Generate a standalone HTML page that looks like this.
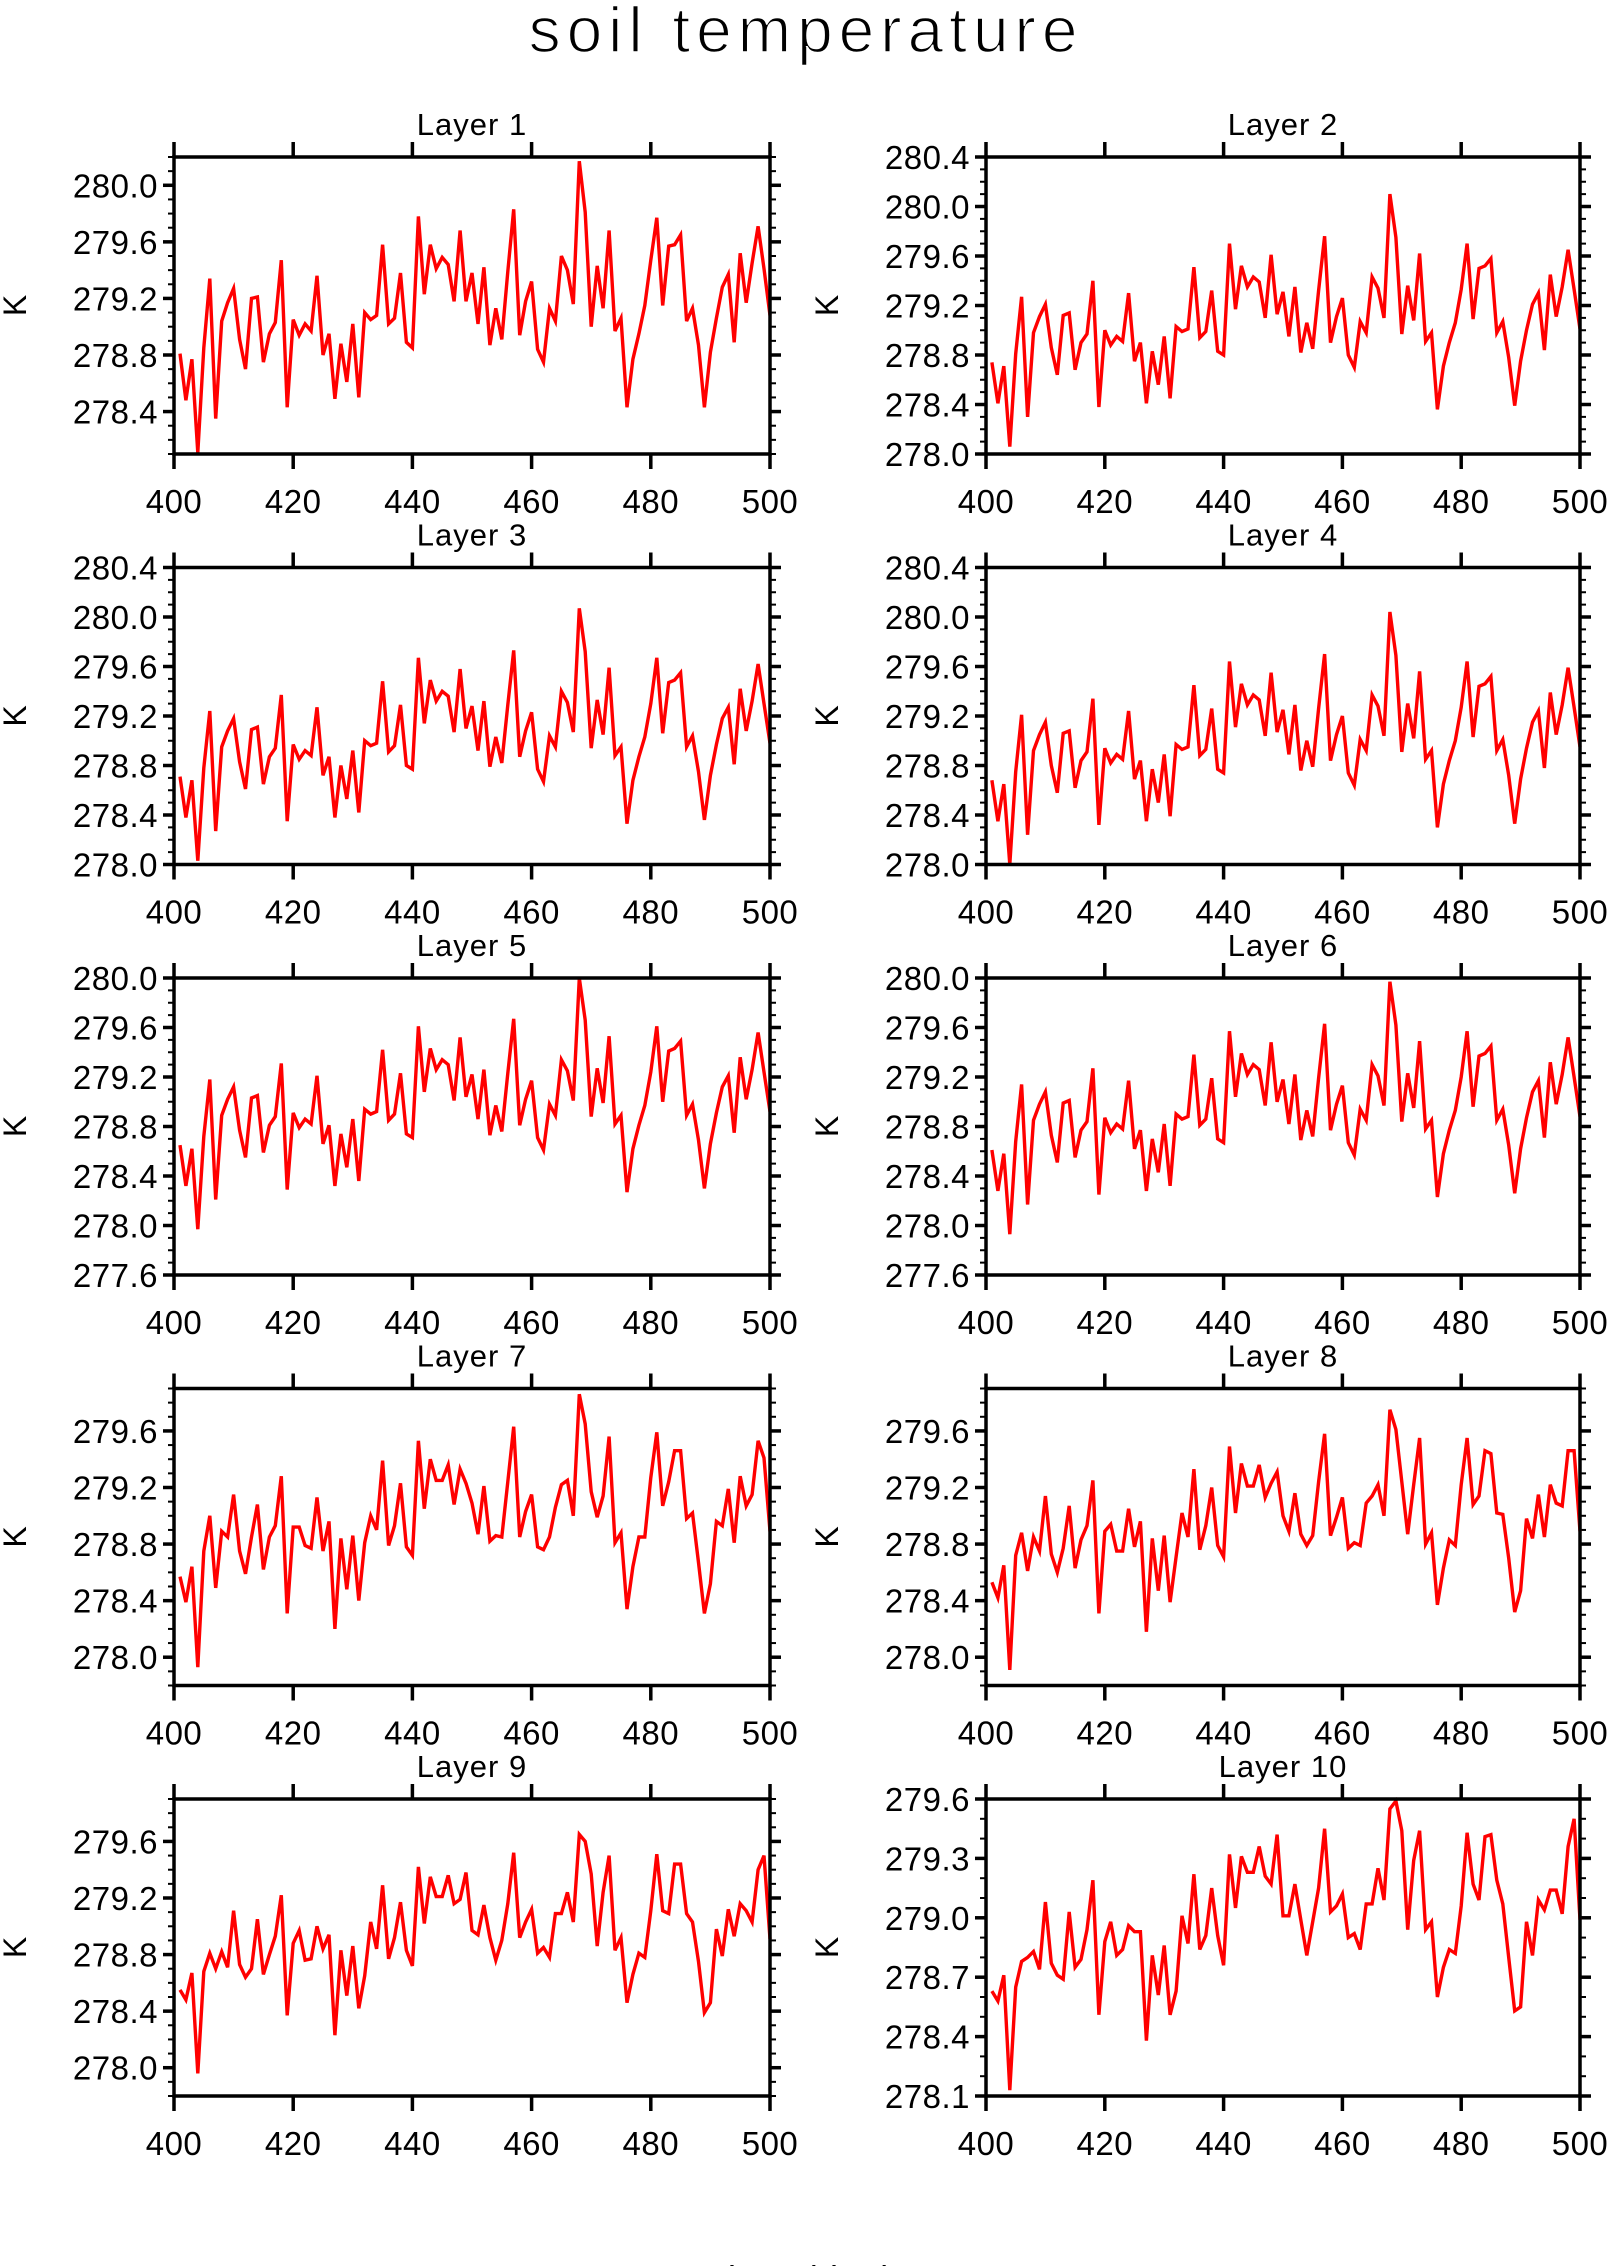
<!DOCTYPE html>
<html>
<head>
<meta charset="utf-8">
<style>
  html, body { margin:0; padding:0; background:#fff; }
  body { width:1612px; height:2266px; overflow:hidden; position:relative; }
  svg { display:block; }
  text { font-family:"Liberation Sans", sans-serif; fill:#000; }
</style>
</head>
<body>
<svg id="chart" width="1612" height="2266" viewBox="0 0 1612 2266" xmlns="http://www.w3.org/2000/svg">
  <text x="806" y="52" text-anchor="middle" font-size="64" letter-spacing="6" stroke="#fff" stroke-width="1.6">soil temperature</text>
  <text x="806" y="2291" text-anchor="middle" font-size="36" letter-spacing="2">time (day)</text>
</svg>
<script>
const xTickLabels = [400, 420, 440, 460, 480, 500];
const layerTitles = ["Layer 1","Layer 2","Layer 3","Layer 4","Layer 5","Layer 6","Layer 7","Layer 8","Layer 9","Layer 10"];
const firstDay = 401;

const layer1 = [278.81,278.48,278.77,278.11,278.85,279.34,278.35,279.04,279.17,279.27,278.91,278.70,279.20,279.21,278.75,278.95,279.03,279.47,278.43,279.05,278.94,279.02,278.97,279.36,278.80,278.95,278.49,278.88,278.61,279.02,278.50,279.10,279.05,279.08,279.58,279.02,279.06,279.38,278.89,278.85,279.78,279.23,279.58,279.41,279.49,279.44,279.18,279.68,279.18,279.38,279.02,279.42,278.87,279.13,278.91,279.39,279.83,278.94,279.18,279.32,278.84,278.75,279.13,279.04,279.50,279.40,279.16,280.17,279.81,279.00,279.43,279.13,279.68,278.97,279.06,278.43,278.77,278.95,279.15,279.47,279.77,279.15,279.57,279.58,279.65,279.04,279.13,278.87,278.43,278.82,279.06,279.28,279.37,278.89,279.52,279.17,279.45,279.71,279.41,279.08];
const layer2 = [278.74,278.41,278.71,278.06,278.81,279.27,278.30,278.98,279.11,279.21,278.86,278.64,279.12,279.14,278.68,278.90,278.97,279.40,278.38,279.00,278.88,278.95,278.91,279.30,278.75,278.90,278.41,278.83,278.56,278.95,278.45,279.03,278.99,279.01,279.51,278.94,278.99,279.32,278.83,278.80,279.70,279.17,279.52,279.35,279.43,279.39,279.10,279.61,279.13,279.31,278.95,279.35,278.82,279.06,278.85,279.32,279.76,278.90,279.11,279.26,278.80,278.70,279.07,278.98,279.43,279.34,279.10,280.10,279.75,278.97,279.36,279.08,279.62,278.91,278.98,278.36,278.71,278.90,279.06,279.33,279.70,279.09,279.50,279.52,279.58,278.98,279.07,278.78,278.39,278.75,279.00,279.21,279.30,278.84,279.45,279.11,279.35,279.65,279.33,279.01];
const layer3 = [278.71,278.38,278.68,278.03,278.78,279.24,278.27,278.95,279.08,279.18,278.83,278.61,279.09,279.11,278.65,278.87,278.94,279.37,278.35,278.97,278.85,278.92,278.88,279.27,278.72,278.87,278.38,278.80,278.53,278.92,278.42,279.00,278.96,278.98,279.48,278.91,278.96,279.29,278.80,278.77,279.67,279.14,279.49,279.32,279.40,279.36,279.07,279.58,279.10,279.28,278.92,279.32,278.79,279.03,278.82,279.29,279.73,278.87,279.08,279.23,278.77,278.67,279.04,278.95,279.40,279.31,279.07,280.07,279.72,278.94,279.33,279.05,279.59,278.88,278.95,278.33,278.68,278.87,279.03,279.30,279.67,279.06,279.47,279.49,279.55,278.95,279.04,278.75,278.36,278.72,278.97,279.18,279.27,278.81,279.42,279.08,279.32,279.62,279.30,278.98];
const layer4 = [278.68,278.35,278.65,278.00,278.75,279.21,278.24,278.92,279.05,279.15,278.80,278.58,279.06,279.08,278.62,278.84,278.91,279.34,278.32,278.94,278.82,278.89,278.85,279.24,278.69,278.84,278.35,278.77,278.50,278.89,278.39,278.97,278.93,278.95,279.45,278.88,278.93,279.26,278.77,278.74,279.64,279.11,279.46,279.29,279.37,279.33,279.04,279.55,279.07,279.25,278.89,279.29,278.76,279.00,278.79,279.26,279.70,278.84,279.05,279.20,278.74,278.64,279.01,278.92,279.37,279.28,279.04,280.04,279.69,278.91,279.30,279.02,279.56,278.85,278.92,278.30,278.65,278.84,279.00,279.27,279.64,279.03,279.44,279.46,279.52,278.92,279.01,278.72,278.33,278.69,278.94,279.15,279.24,278.78,279.39,279.05,279.29,279.59,279.27,278.95];
const layer5 = [278.65,278.32,278.62,277.97,278.72,279.18,278.21,278.89,279.02,279.12,278.77,278.55,279.03,279.05,278.59,278.81,278.88,279.31,278.29,278.91,278.79,278.86,278.82,279.21,278.66,278.81,278.32,278.74,278.47,278.86,278.36,278.94,278.90,278.92,279.42,278.85,278.90,279.23,278.74,278.71,279.61,279.08,279.43,279.26,279.34,279.30,279.01,279.52,279.04,279.22,278.86,279.26,278.73,278.97,278.76,279.23,279.67,278.81,279.02,279.17,278.71,278.61,278.98,278.89,279.34,279.25,279.01,280.00,279.66,278.88,279.27,278.99,279.53,278.82,278.89,278.27,278.62,278.81,278.97,279.24,279.61,279.00,279.41,279.43,279.49,278.89,278.98,278.69,278.30,278.66,278.91,279.12,279.21,278.75,279.36,279.02,279.26,279.56,279.24,278.92];
const layer6 = [278.61,278.28,278.58,277.93,278.68,279.14,278.17,278.85,278.98,279.08,278.73,278.51,278.99,279.01,278.55,278.77,278.84,279.27,278.25,278.87,278.75,278.82,278.78,279.17,278.62,278.77,278.28,278.70,278.43,278.82,278.32,278.90,278.86,278.88,279.38,278.81,278.86,279.19,278.70,278.67,279.57,279.04,279.39,279.22,279.30,279.26,278.97,279.48,279.00,279.18,278.82,279.22,278.69,278.93,278.72,279.19,279.63,278.77,278.98,279.13,278.67,278.57,278.94,278.85,279.30,279.21,278.97,279.97,279.62,278.84,279.23,278.95,279.49,278.78,278.85,278.23,278.58,278.77,278.93,279.20,279.57,278.96,279.37,279.39,279.45,278.85,278.94,278.65,278.26,278.62,278.87,279.08,279.17,278.71,279.32,278.98,279.22,279.52,279.20,278.88];
const layer7 = [278.57,278.39,278.64,277.93,278.75,279.00,278.49,278.89,278.85,279.15,278.75,278.59,278.85,279.08,278.62,278.85,278.93,279.28,278.31,278.92,278.92,278.79,278.77,279.13,278.75,278.96,278.20,278.84,278.48,278.86,278.40,278.81,279.00,278.90,279.39,278.79,278.93,279.23,278.78,278.72,279.53,279.05,279.40,279.25,279.25,279.36,279.08,279.33,279.23,279.09,278.87,279.21,278.82,278.86,278.85,279.24,279.63,278.85,279.03,279.15,278.78,278.76,278.85,279.06,279.22,279.25,279.00,279.86,279.65,279.17,278.99,279.14,279.56,278.81,278.88,278.34,278.64,278.85,278.85,279.27,279.59,279.07,279.24,279.46,279.46,278.98,279.02,278.67,278.31,278.52,278.96,278.93,279.19,278.81,279.28,279.07,279.15,279.53,279.41,278.89];
const layer8 = [278.53,278.42,278.65,277.91,278.72,278.88,278.61,278.85,278.75,279.14,278.73,278.60,278.77,279.07,278.63,278.83,278.93,279.25,278.31,278.89,278.94,278.75,278.75,279.05,278.78,278.96,278.18,278.84,278.47,278.86,278.39,278.71,279.02,278.85,279.33,278.76,278.93,279.20,278.79,278.71,279.49,279.02,279.37,279.21,279.21,279.36,279.13,279.23,279.31,279.00,278.89,279.16,278.87,278.79,278.86,279.24,279.58,278.86,278.99,279.13,278.77,278.81,278.79,279.09,279.14,279.22,279.00,279.75,279.61,279.24,278.87,279.22,279.55,278.80,278.88,278.37,278.63,278.83,278.79,279.22,279.55,279.08,279.14,279.46,279.44,279.02,279.01,278.70,278.32,278.47,278.98,278.84,279.15,278.85,279.22,279.09,279.07,279.46,279.46,278.89];
const layer9 = [278.55,278.48,278.67,277.96,278.68,278.81,278.70,278.82,278.71,279.11,278.73,278.64,278.70,279.05,278.66,278.80,278.93,279.22,278.37,278.88,278.97,278.76,278.77,279.00,278.84,278.94,278.23,278.83,278.51,278.86,278.42,278.65,279.03,278.84,279.29,278.77,278.92,279.17,278.83,278.72,279.42,279.02,279.35,279.21,279.21,279.36,279.16,279.19,279.38,278.97,278.94,279.15,278.92,278.76,278.90,279.16,279.52,278.92,279.03,279.12,278.81,278.85,278.78,279.09,279.09,279.24,279.03,279.65,279.60,279.37,278.86,279.24,279.50,278.83,278.92,278.46,278.66,278.81,278.78,279.11,279.51,279.11,279.09,279.44,279.44,279.09,279.03,278.75,278.39,278.46,278.98,278.79,279.12,278.93,279.16,279.11,279.03,279.40,279.50,278.91];
const layer10 = [278.63,278.58,278.71,278.13,278.65,278.78,278.80,278.83,278.74,279.08,278.77,278.71,278.69,279.03,278.75,278.79,278.94,279.19,278.51,278.88,278.98,278.81,278.84,278.96,278.93,278.93,278.38,278.81,278.61,278.86,278.51,278.63,279.01,278.87,279.22,278.84,278.91,279.15,278.91,278.76,279.32,279.05,279.31,279.23,279.23,279.36,279.21,279.17,279.42,279.01,279.01,279.17,278.99,278.81,278.98,279.15,279.45,279.03,279.06,279.12,278.90,278.92,278.84,279.07,279.07,279.25,279.09,279.55,279.59,279.44,278.94,279.29,279.44,278.94,278.98,278.60,278.75,278.84,278.82,279.06,279.43,279.17,279.09,279.41,279.42,279.19,279.07,278.80,278.53,278.55,278.98,278.81,279.09,279.04,279.14,279.14,279.02,279.36,279.50,278.99];

const yMins = [278.1, 278.0, 278.0, 278.0, 277.6, 277.6, 277.8, 277.8, 277.8, 278.1];
const yMaxs = [280.2, 280.4, 280.4, 280.4, 280.0, 280.0, 279.9, 279.9, 279.9, 279.6];
const yTickLabels = [
  ["278.4","278.8","279.2","279.6","280.0"],
  ["278.0","278.4","278.8","279.2","279.6","280.0","280.4"],
  ["278.0","278.4","278.8","279.2","279.6","280.0","280.4"],
  ["278.0","278.4","278.8","279.2","279.6","280.0","280.4"],
  ["277.6","278.0","278.4","278.8","279.2","279.6","280.0"],
  ["277.6","278.0","278.4","278.8","279.2","279.6","280.0"],
  ["278.0","278.4","278.8","279.2","279.6"],
  ["278.0","278.4","278.8","279.2","279.6"],
  ["278.0","278.4","278.8","279.2","279.6"],
  ["278.1","278.4","278.7","279.0","279.3","279.6"]
];
const minorStep = 0.1;

const series = [layer1,layer2,layer3,layer4,layer5,layer6,layer7,layer8,layer9,layer10];

const NS = "http://www.w3.org/2000/svg";
const svg = document.getElementById("chart");
const colX = [[174, 770], [986, 1580]];
const rowTop = [157, 567.5, 978, 1388.5, 1799];
const panelH = 297;

function mk(tag, attrs, parent) {
  const e = document.createElementNS(NS, tag);
  for (const k in attrs) e.setAttribute(k, attrs[k]);
  parent.appendChild(e);
  return e;
}

series.forEach((vals, p) => {
  const col = p % 2, row = Math.floor(p / 2);
  const x0 = colX[col][0], x1 = colX[col][1];
  const y0 = rowTop[row], y1 = rowTop[row] + panelH;
  const lo = yMins[p], hi = yMaxs[p];
  const xs = d => x0 + (d - 400) / 100 * (x1 - x0);
  const ys = v => y1 - (v - lo) / (hi - lo) * (y1 - y0);

  const g = mk("g", {}, svg);
  
  

  const title = mk("text", {x: (x0 + x1) / 2, y: y0 - 22, "text-anchor": "middle", "font-size": 31, "letter-spacing": 1}, g);
  title.textContent = layerTitles[p];
  
  

  const ylab = mk("text", {x: 0, y: 0, "text-anchor": "middle", "font-size": 32, transform: "translate(" + (x0 - 148) + "," + ((y0 + y1) / 2) + ") rotate(-90)"}, g);
  ylab.textContent = "K";
  
  

  const nMinor = Math.round((hi - lo) / minorStep);
  for (let i = 0; i <= nMinor; i++) {
    const yy = ys(lo + i * minorStep);
    const t1 = mk("line", {x1: x0 - 6, x2: x0, y1: yy, y2: yy, stroke: "#000", "stroke-width": 2}, g);
    
    
    const t2 = mk("line", {x1: x1, x2: x1 + 6, y1: yy, y2: yy, stroke: "#000", "stroke-width": 2}, g);
    
    
  }
  yTickLabels[p].forEach(lbl => {
    const yy = ys(parseFloat(lbl));
    const t1 = mk("line", {x1: x0 - 11, x2: x0, y1: yy, y2: yy, stroke: "#000", "stroke-width": 3.5}, g);
    
    
    const t2 = mk("line", {x1: x1, x2: x1 + 11, y1: yy, y2: yy, stroke: "#000", "stroke-width": 3.5}, g);
    
    
    const tx = mk("text", {x: x0 - 16, y: yy + 12, "text-anchor": "end", "font-size": 33, "letter-spacing": 0.5}, g);
    tx.textContent = lbl;
    
    
  });
  xTickLabels.forEach(d => {
    const xx = xs(d);
    const t1 = mk("line", {x1: xx, x2: xx, y1: y1, y2: y1 + 15, stroke: "#000", "stroke-width": 3.5}, g);
    
    
    const t2 = mk("line", {x1: xx, x2: xx, y1: y0 - 15, y2: y0, stroke: "#000", "stroke-width": 3.5}, g);
    
    
    const tx = mk("text", {x: xx, y: y1 + 59, "text-anchor": "middle", "font-size": 33, "letter-spacing": 0.5}, g);
    tx.textContent = String(d);
    
    
  });

  const pts = vals.map((v, i) => xs(firstDay + i).toFixed(1) + "," + ys(v).toFixed(1)).join(" ");
  const line = mk("polyline", {points: pts, fill: "none", stroke: "#ff0000", "stroke-width": 3.4, "stroke-linejoin": "miter"}, g);
  
  

  const fr = mk("rect", {x: x0, y: y0, width: x1 - x0, height: y1 - y0, fill: "none", stroke: "#000", "stroke-width": 3.5}, g);
  
  
});
</script>
</body>
</html>
